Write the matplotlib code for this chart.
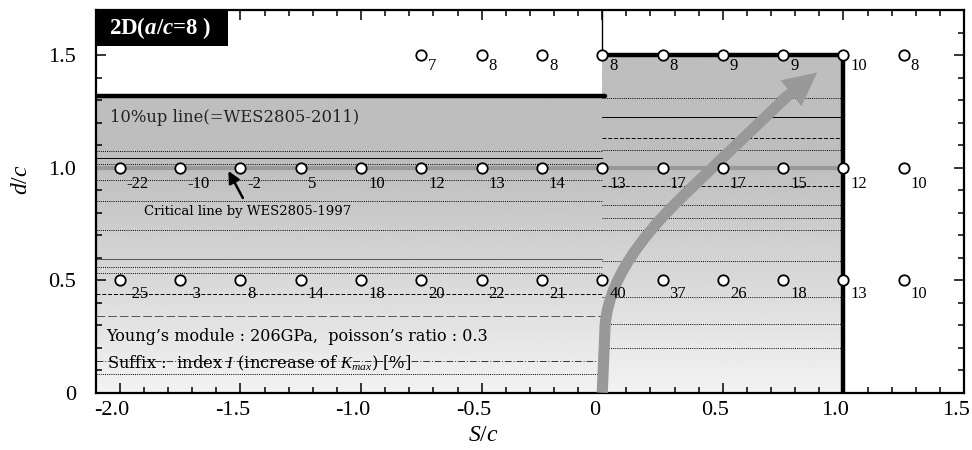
import numpy as np
import matplotlib
matplotlib.use("Agg")
import matplotlib.pyplot as plt
import matplotlib.transforms as mtransforms
from matplotlib.patches import Rectangle, FancyArrowPatch, PathPatch
from matplotlib.path import Path
from matplotlib.ticker import MultipleLocator, FuncFormatter

plt.rcParams['font.family'] = ['Liberation Serif', 'DejaVu Serif']
plt.rcParams['mathtext.fontset'] = 'custom'
plt.rcParams['mathtext.rm'] = 'Liberation Serif'
plt.rcParams['mathtext.it'] = 'Liberation Serif:italic'
plt.rcParams['mathtext.bf'] = 'Liberation Serif:bold'
plt.rcParams['mathtext.bfit'] = 'Liberation Serif:italic:bold'
plt.rcParams['axes.unicode_minus'] = False

# S/c of the computed cases
s_all = [-2.0, -1.75, -1.5, -1.25, -1.0, -0.75, -0.5, -0.25, 0.0, 0.25, 0.5, 0.75, 1.0, 1.25]
s_top = [-0.75, -0.5, -0.25, 0.0, 0.25, 0.5, 0.75, 1.0, 1.25]
# index I [%] for each d/c row
I_15 = [7, 8, 8, 8, 8, 9, 9, 10, 8]
I_10 = [-22, -10, -2, 5, 10, 12, 13, 14, 13, 17, 17, 15, 12, 10]
I_05 = [-25, -3, 8, 14, 18, 20, 22, 21, 40, 37, 26, 18, 13, 10]

# 10%up line (WES2805-2011) and critical line (WES2805-1997)
d_left = 1.32
d_top = 1.5
s_right = 1.0
d_1997 = 1.0

# thin iso lines inside the shaded regions (d/c, style)
left_lines = [(1.072, 'dot'), (1.043, 'solid'), (1.016, 'dot'), (0.947, 'dot'),
              (0.853, 'dot'), (0.721, 'dot'), (0.592, 'solidg'), (0.560, 'dot'),
              (0.531, 'dot'), (0.437, 'dash'), (0.341, 'longg'), (0.140, 'dashdot'),
              (0.085, 'dot')]
right_lines = [(1.308, 'dot'), (1.223, 'solid'), (1.131, 'dash'), (1.080, 'dot'),
               (0.920, 'dash'), (0.832, 'dot'), (0.776, 'dot'), (0.724, 'dot'),
               (0.584, 'dot'), (0.426, 'dot'), (0.304, 'dot'), (0.198, 'dot')]
styles = {'dot': ((0, (1, 1.2)), 'black'), 'solid': ('-', 'black'),
          'solidg': ('-', '#555555'), 'dash': ((0, (4, 2)), 'black'),
          'longg': ((0, (9, 3)), '#555555'), 'dashdot': ((0, (7, 2, 1, 2)), '#333333')}

TIMES = 'Liberation Serif'
WIDE = 'DejaVu Serif'

fig = plt.figure(figsize=(9.72, 4.5), dpi=100)
ax = fig.add_axes([0.0985, 0.1273, 0.8933, 0.8505])
ax.set_xlim(-2.1, 1.5)
ax.set_ylim(0, 1.7)

# shaded regions with vertical gradient
yy = np.linspace(0, 1.5, 200)
grad = np.clip(0.95 - 0.2 * yy, 0.745, 1)[:, None]
ax.imshow(grad[yy <= d_left], extent=(-2.1, 0, 0, d_left), origin='lower', cmap='gray',
          vmin=0, vmax=1, aspect='auto', interpolation='bilinear', zorder=0)
ax.imshow(grad, extent=(0, s_right, 0, d_top), origin='lower', cmap='gray',
          vmin=0, vmax=1, aspect='auto', interpolation='bilinear', zorder=0)

for d, st in left_lines:
    ls, c = styles[st]
    ax.plot([-2.1, 0], [d, d], ls=ls, color=c, lw=0.7, zorder=1)
for d, st in right_lines:
    ls, c = styles[st]
    ax.plot([0, s_right], [d, d], ls=ls, color=c, lw=0.7, zorder=1)

# critical line by WES2805-1997
ax.plot([-2.1, s_right], [d_1997, d_1997], color='#999999', lw=3, zorder=2, solid_capstyle='butt')

# 10%up line
ax.plot([-2.1, 0.01], [d_left, d_left], color='black', lw=3.2, zorder=3, solid_capstyle='round')
ax.plot([0, s_right, s_right], [d_top, d_top, 0], color='black', lw=3.2, zorder=3)
ax.plot([0, 0], [d_top, 1.7], color='black', lw=1, zorder=3)

# big grey arrow
shaft = Path([(0, 0), (0.012, 0.3), (0.03, 0.55), (0.24, 0.777), (0.36, 0.9), (0.76, 1.31)],
             [Path.MOVETO, Path.LINETO, Path.CURVE4, Path.CURVE4, Path.CURVE4, Path.LINETO])
ax.add_patch(PathPatch(shaft, fc='none', ec='#999999', lw=8, capstyle='butt',
                       joinstyle='round', zorder=4))
ax.add_patch(FancyArrowPatch((0.73, 1.285), (0.90, 1.43), mutation_scale=10, lw=0,
                             arrowstyle='simple,head_width=2.4,head_length=2.4,tail_width=0.8',
                             color='#999999', zorder=4))

# cases
rows = [(1.5, s_top, I_15, -8), (1.0, s_all, I_10, -11.5), (0.5, s_all, I_05, -10.3)]
for d, s, vals, dy in rows:
    ax.plot(s, [d] * len(s), 'o', mfc='white', mec='black', ms=7.5, mew=1.3, zorder=6,
            clip_on=False)
    for x, v in zip(s, vals):
        ax.annotate(str(v), (x, d), xytext=(5, dy), textcoords='offset points',
                    ha='left', va='center', fontsize=12, family=TIMES, zorder=7)

ax.text(-2.04, 1.222, '10%up line(=WES2805-2011)', fontsize=11.8, va='center',
        color='#222222', family=WIDE)
ax.text(-1.90, 0.805, 'Critical line by WES2805-1997', fontsize=9.5, va='center',
        family=WIDE)
ax.annotate('', xy=(-1.55, 0.985), xytext=(-1.49, 0.865),
            arrowprops=dict(arrowstyle='-|>,head_width=0.35,head_length=0.7', color='black',
                            lw=1.8, shrinkA=0, shrinkB=0))
ax.text(-2.055, 0.249, 'Young\u2019s module : 206GPa,  poisson\u2019s ratio : 0.3',
        fontsize=11.5, va='center', family=WIDE)
ax.text(-2.055, 0.131, r'Suffix :  index $I$ (increase of $K_{max}$) [%]',
        fontsize=11.8, va='center', family=WIDE)

# title box
ax.add_patch(Rectangle((0, 0.906), 0.152, 0.094, transform=ax.transAxes,
                       fc='black', ec='none', zorder=8))
ax.text(0.015, 0.953, r'2D($\mathbfit{a}$/$\mathbfit{c}$=8 )', transform=ax.transAxes,
        color='white', fontsize=16.5, fontweight='bold', family=TIMES,
        va='center', ha='left', zorder=9)

ax.xaxis.set_major_locator(MultipleLocator(0.5))
ax.xaxis.set_minor_locator(MultipleLocator(0.1))
ax.yaxis.set_major_locator(MultipleLocator(0.5))
ax.yaxis.set_minor_locator(MultipleLocator(0.1))
fmt = FuncFormatter(lambda v, p: '0' if abs(v) < 1e-9 else '%.1f' % v)
ax.xaxis.set_major_formatter(fmt)
ax.yaxis.set_major_formatter(fmt)
ax.tick_params(which='both', direction='in', top=True, right=True, width=1.1)
ax.tick_params(which='major', length=7, labelsize=16, labelfontfamily=TIMES)
ax.tick_params(which='minor', length=4)
ax.tick_params(axis='y', pad=14)
ax.tick_params(axis='x', pad=6)
for sp in ax.spines.values():
    sp.set_linewidth(1.6)

# x tick labels sit a little left of their ticks
shift = mtransforms.ScaledTranslation(-8 / 100, 0, fig.dpi_scale_trans)
for lab in ax.get_xticklabels():
    lab.set_transform(lab.get_transform() + shift)

ax.set_xlabel('$S$/$c$', fontsize=17)
ax.set_ylabel('$d$/$c$', fontsize=17)
ax.xaxis.set_label_coords(0.446, -0.085)
ax.yaxis.set_label_coords(-0.073, 0.556)

fig.savefig('out.png', dpi=100)
